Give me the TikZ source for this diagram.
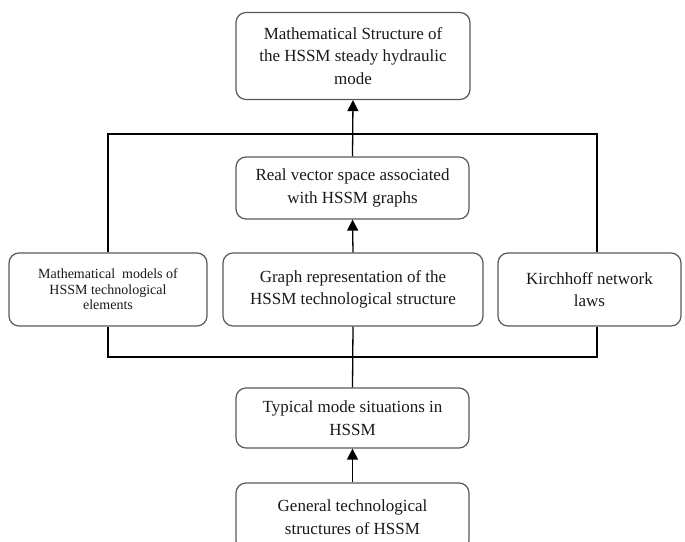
\documentclass[tikz,border=0pt]{standalone}
\usepackage{fontspec}
\setmainfont{Liberation Serif}
\usetikzlibrary{arrows.meta}
\begin{document}
\begin{tikzpicture}[x=1pt,y=-1pt,
  box/.style={draw=black!65, line width=1.2pt, rounded corners=10pt, align=center,
    inner sep=2pt, font=\fontsize{17}{22.5}\selectfont, text=black!90},
  smallbox/.style={box, font=\fontsize{14}{15.5}\selectfont},
  frame/.style={line width=2.6pt, black},
  conn/.style={line width=1.3pt, black},
  arr/.style={conn, -{Triangle[width=11pt,length=11pt]}}]
\useasboundingbox (0,0) rectangle (685,541);
\clip (0,0) rectangle (685,541);

\node[box, minimum width=234pt, minimum height=87pt] (top) at (353,56)
  {Mathematical Structure of\\the HSSM steady hydraulic\\mode};
\node[box, minimum width=233pt, minimum height=62pt] (vec) at (352.5,188)
  {Real vector space associated\\with HSSM graphs};
\node[smallbox, minimum width=198pt, minimum height=73pt] (models) at (108,289.5)
  {Mathematical~ models of\\HSSM technological\\elements};
\node[box, minimum width=260pt, minimum height=73pt] (graph) at (353,289.5)
  {Graph representation of the\\HSSM technological structure};
\node[box, minimum width=183pt, minimum height=73pt] (kirch) at (589.5,289.5)
  {Kirchhoff network\\laws};
\node[box, minimum width=233pt, minimum height=60pt] (typ) at (352.5,418)
  {Typical mode situations in\\HSSM};
\node[box, minimum width=233pt, minimum height=68pt] (gen) at (352.5,517)
  {General technological\\structures of HSSM};

\coordinate (tl) at (108,134);
\coordinate (tr) at (597,134);
\coordinate (bl) at (108,357);
\coordinate (br) at (597,357);

\draw[frame] (models.north) -- (tl) -- (tr) -- (tr |- kirch.north);
\draw[frame] (models.south) -- (bl) -- (br) -- (br |- kirch.south);

\draw[arr] (vec.north) -- (top.south);
\draw[arr] (graph.north) -- (vec.south);
\draw[conn] (typ.north) -- (graph.south);
\draw[arr] (gen.north) -- (typ.south);
\end{tikzpicture}
\end{document}
